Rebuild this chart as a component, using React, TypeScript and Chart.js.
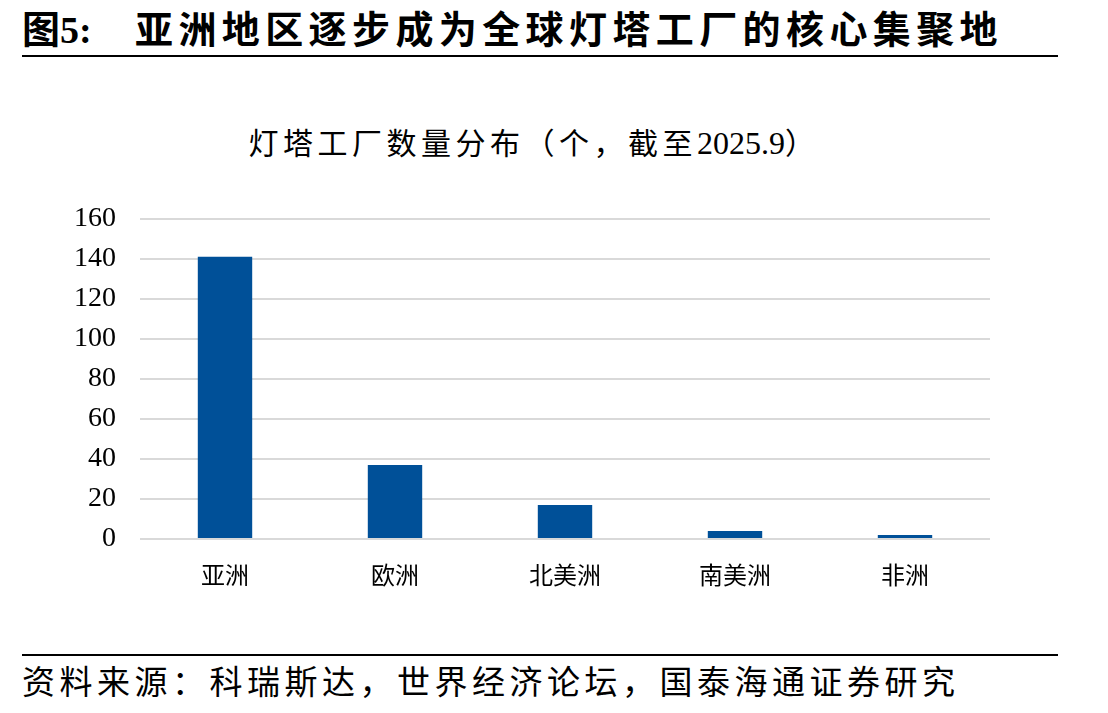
import React, { useEffect, useRef } from "react";
import { Chart, registerables } from "chart.js";

Chart.register(...registerables);

const categories = ["亚洲", "欧洲", "北美洲", "南美洲", "非洲"];
const counts = [141, 37, 17, 4, 2];
const yTicks = [0, 20, 40, 60, 80, 100, 120, 140, 160];

const headerPrefixCJK = "图";
const headerPrefixNum = "5:";
const headerText = "亚洲地区逐步成为全球灯塔工厂的核心集聚地";
const chartTitleA = "灯塔工厂数量分布（个，截至";
const chartTitleDate = "2025.9";
const chartTitleB = "）";
const sourceText = "资料来源：科瑞斯达，世界经济论坛，国泰海通证券研究";

const FAMILY = '"Liberation Serif", "Noto Sans CJK SC", serif';
const SERIF = '"Liberation Serif", serif';

export default function App() {
  const ref = useRef<HTMLCanvasElement | null>(null);

  useEffect(() => {
    document.body.style.margin = "0";
    const canvas = ref.current;
    if (!canvas) return;
    const chart = new Chart(canvas, {
      type: "bar",
      data: {
        labels: categories,
        datasets: [
          {
            data: counts,
            backgroundColor: "#005098",
            barPercentage: 0.32,
            categoryPercentage: 1,
          },
        ],
      },
      options: {
        animation: false,
        responsive: false,
        maintainAspectRatio: false,
        layout: { padding: { top: 26, right: 118, left: 0, bottom: 0 } },
        plugins: {
          legend: { display: false },
          title: { display: false },
          tooltip: { enabled: false },
        },
        scales: {
          x: {
            grid: { display: false, drawTicks: false },
            border: { display: false },
            ticks: {
              color: "#000",
              padding: 24,
              font: { family: FAMILY, size: 24 },
            },
            afterFit: (s: any) => {
              s.height = 61;
            },
          },
          y: {
            min: 0,
            max: 160,
            afterBuildTicks: (s: any) => {
              s.ticks = yTicks.map((v) => ({ value: v }));
            },
            grid: { color: "#d9d9d9", lineWidth: 2, drawTicks: false },
            border: { display: false },
            ticks: {
              color: "#000",
              padding: 24,
              font: { family: SERIF, size: 28 },
            },
            afterFit: (s: any) => {
              s.width = 140;
            },
          },
        },
      },
    });
    return () => chart.destroy();
  }, []);

  return (
    <div
      style={{
        position: "absolute",
        left: 0,
        top: 0,
        width: 1108,
        height: 713,
        background: "#fff",
        fontFamily: FAMILY,
        color: "#000",
      }}
    >
      <div
        style={{
          position: "absolute",
          left: 22,
          top: 8,
          fontSize: 38,
          fontWeight: "bold",
          lineHeight: "44px",
          whiteSpace: "nowrap",
        }}
      >
        {headerPrefixCJK}
        <span style={{ fontFamily: SERIF }}>{headerPrefixNum}</span>
      </div>
      <div
        style={{
          position: "absolute",
          left: 135,
          top: 8,
          fontSize: 38,
          fontWeight: "bold",
          letterSpacing: 5.4,
          lineHeight: "44px",
          whiteSpace: "nowrap",
        }}
      >
        {headerText}
      </div>
      <div
        style={{
          position: "absolute",
          left: 22,
          top: 55,
          width: 1036,
          height: 2,
          background: "#000",
        }}
      />
      <div
        style={{
          position: "absolute",
          left: 0,
          top: 124,
          width: 1068,
          textAlign: "center",
          fontSize: 30,
          letterSpacing: 4.5,
          lineHeight: "38px",
          whiteSpace: "nowrap",
        }}
      >
        {chartTitleA}
        <span style={{ fontFamily: SERIF, fontSize: 32, letterSpacing: 0 }}>{chartTitleDate}</span>
        {chartTitleB}
      </div>
      <canvas
        ref={ref}
        width={1108}
        height={422}
        style={{ position: "absolute", left: 0, top: 178, width: 1108, height: 422 }}
      />
      <div
        style={{
          position: "absolute",
          left: 22,
          top: 654,
          width: 1036,
          height: 2,
          background: "#000",
        }}
      />
      <div
        style={{
          position: "absolute",
          left: 22,
          top: 662,
          fontSize: 33,
          letterSpacing: 4.5,
          lineHeight: "42px",
          whiteSpace: "nowrap",
        }}
      >
        {sourceText}
      </div>
    </div>
  );
}
